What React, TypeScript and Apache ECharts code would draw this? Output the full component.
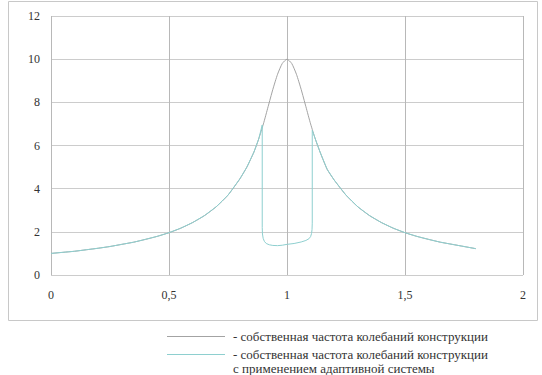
import React, { useEffect, useRef } from "react";
import * as echarts from "echarts";

const xTickLabels = ["0", "0,5", "1", "1,5", "2"];
const yTicks = [0, 2, 4, 6, 8, 10, 12];

const baseX = [0, 0.05, 0.1, 0.15, 0.2, 0.25, 0.3, 0.35, 0.4, 0.45, 0.5, 0.55, 0.6, 0.65, 0.7, 0.75, 0.8, 0.83, 0.86, 0.88, 0.9, 0.92, 0.94, 0.96, 0.98, 1.0, 1.02, 1.04, 1.06, 1.08, 1.1, 1.12, 1.14, 1.17, 1.2, 1.25, 1.3, 1.35, 1.4, 1.45, 1.5, 1.55, 1.6, 1.65, 1.7, 1.75, 1.8];
const baseY = [1.0, 1.05, 1.1, 1.17, 1.24, 1.32, 1.42, 1.52, 1.65, 1.79, 1.96, 2.17, 2.43, 2.75, 3.16, 3.7, 4.45, 5.0, 5.7, 6.3, 7.0, 7.8, 8.6, 9.3, 9.8, 10.0, 9.8, 9.3, 8.6, 7.8, 7.0, 6.3, 5.7, 4.9, 4.4, 3.7, 3.16, 2.75, 2.43, 2.17, 1.96, 1.79, 1.65, 1.52, 1.42, 1.32, 1.22];

const adaptX = [0, 0.05, 0.1, 0.15, 0.2, 0.25, 0.3, 0.35, 0.4, 0.45, 0.5, 0.55, 0.6, 0.65, 0.7, 0.75, 0.8, 0.83, 0.86, 0.88, 0.895, 0.895, 0.896, 0.899, 0.904, 0.912, 0.925, 0.94, 0.96, 0.98, 1.0, 1.03, 1.06, 1.08, 1.093, 1.1, 1.104, 1.106, 1.107, 1.107, 1.12, 1.14, 1.17, 1.2, 1.25, 1.3, 1.35, 1.4, 1.45, 1.5, 1.55, 1.6, 1.65, 1.7, 1.75, 1.8];
const adaptY = [1.0, 1.05, 1.1, 1.17, 1.24, 1.32, 1.42, 1.52, 1.65, 1.79, 1.96, 2.17, 2.43, 2.75, 3.16, 3.7, 4.45, 5.0, 5.7, 6.3, 6.95, 2.2, 1.9, 1.7, 1.56, 1.46, 1.4, 1.37, 1.36, 1.38, 1.42, 1.46, 1.53, 1.6, 1.68, 1.78, 1.92, 2.1, 2.4, 6.7, 6.3, 5.7, 4.9, 4.4, 3.7, 3.16, 2.75, 2.43, 2.17, 1.96, 1.79, 1.65, 1.52, 1.42, 1.32, 1.22];

const legendTexts = [
  "- собственная частота колебаний конструкции",
  "- собственная частота колебаний конструкции",
  "с применением адаптивной системы",
];

const GREY = "#a3a3a3";
const TEAL = "#8ecfcf";
const FONT = "Liberation Serif";

export default function App() {
  const ref = useRef<HTMLDivElement>(null);
  useEffect(() => {
    if (!ref.current) return;
    const chart = echarts.init(ref.current, null, { renderer: "svg" });
    const basePts = baseX.map((x, i) => [x, baseY[i]]);
    const adaptPts = adaptX.map((x, i) => [x, adaptY[i]]);
    chart.setOption({
      animation: false,
      backgroundColor: "#ffffff",
      textStyle: { fontFamily: FONT },
      grid: { left: 51, top: 16, right: 19, bottom: 100 },
      xAxis: {
        type: "value",
        min: 0,
        max: 2,
        interval: 0.5,
        axisLine: { show: false },
        axisTick: { show: false },
        axisLabel: {
          margin: 14,
          color: "#333",
          fontSize: 12,
          fontFamily: FONT,
          formatter: (v: number) => xTickLabels[Math.round(v / 0.5)] ?? String(v),
        },
        splitLine: { show: true, lineStyle: { color: "#b8b8b8", width: 1 } },
      },
      yAxis: {
        type: "value",
        min: yTicks[0],
        max: yTicks[yTicks.length - 1],
        interval: 2,
        axisLine: { show: false },
        axisTick: { show: false },
        axisLabel: { margin: 11, color: "#333", fontSize: 12, fontFamily: FONT },
        splitLine: { show: true, lineStyle: { color: "#cccccc", width: 1 } },
      },
      series: [
        {
          type: "line",
          data: basePts,
          showSymbol: false,
          smooth: 0.2,
          lineStyle: { color: GREY, width: 1 },
          z: 2,
        },
        {
          type: "line",
          data: adaptPts,
          showSymbol: false,
          smooth: false,
          lineStyle: { color: TEAL, width: 1 },
          z: 3,
        },
      ],
      graphic: [
        {
          type: "rect",
          shape: { x: 8.5, y: 1.5, width: 529, height: 319 },
          style: { fill: "none", stroke: "#c8c8c8", lineWidth: 1 },
          silent: true,
        },
        {
          type: "line",
          shape: { x1: 167, y1: 336.5, x2: 225, y2: 336.5 },
          style: { stroke: GREY, lineWidth: 1 },
        },
        {
          type: "line",
          shape: { x1: 167, y1: 354.5, x2: 225, y2: 354.5 },
          style: { stroke: TEAL, lineWidth: 1 },
        },
        {
          type: "text",
          x: 233,
          y: 336,
          style: { text: legendTexts[0], fontSize: 13, fontFamily: FONT, fill: "#333", align: "left", verticalAlign: "middle" },
        },
        {
          type: "text",
          x: 233,
          y: 354,
          style: { text: legendTexts[1], fontSize: 13, fontFamily: FONT, fill: "#333", align: "left", verticalAlign: "middle" },
        },
        {
          type: "text",
          x: 233,
          y: 368,
          style: { text: legendTexts[2], fontSize: 13, fontFamily: FONT, fill: "#333", align: "left", verticalAlign: "middle" },
        },
      ],
    });
    return () => chart.dispose();
  }, []);
  return (
    <div
      ref={ref}
      style={{ position: "fixed", left: 0, top: 0, width: 542, height: 375 }}
    />
  );
}
